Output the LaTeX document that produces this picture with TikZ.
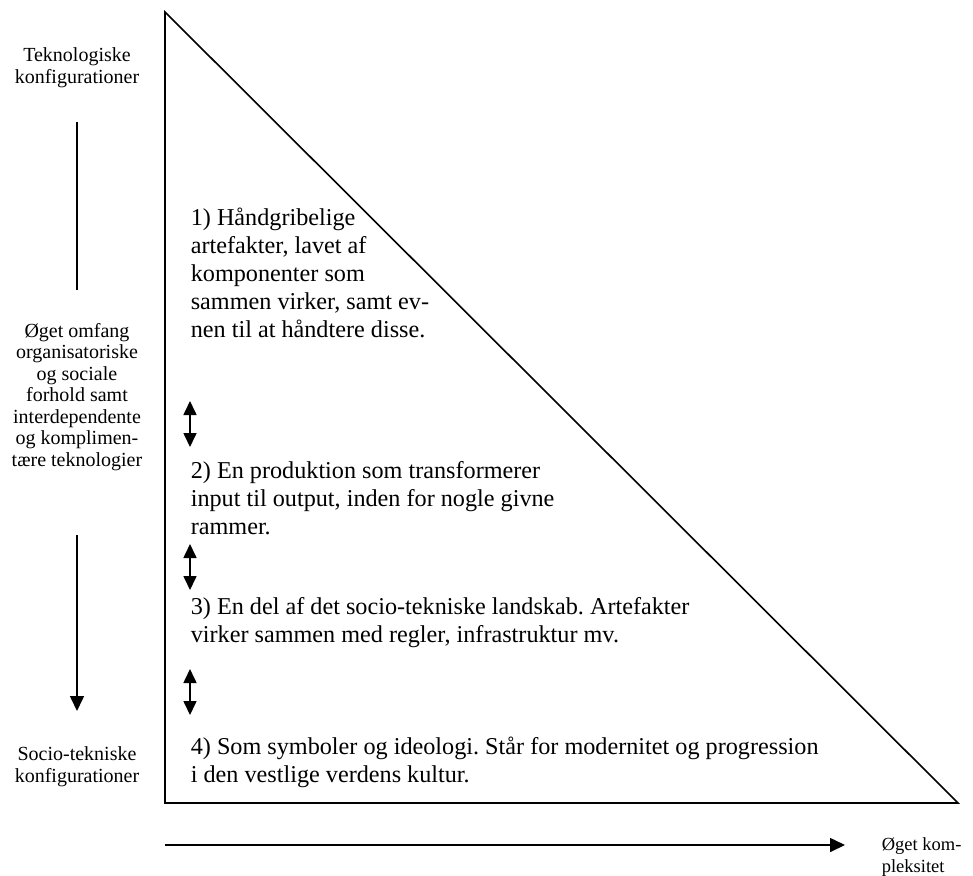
\documentclass[tikz,border=0pt]{standalone}
\usepackage{fontspec}
\setmainfont{Liberation Serif}
\usetikzlibrary{arrows.meta}
\frenchspacing
\begin{document}
\begin{tikzpicture}[x=1pt,y=-1pt,
  line width=1.6pt,
  tip/.style={-{Triangle[length=15pt,width=14pt]}},
  dbl/.style={{Triangle[length=14pt,width=13pt]}-{Triangle[length=14pt,width=13pt]}},
  maintext/.style={anchor=base west,inner sep=0pt,align=left,
    font=\fontsize{24.2}{28}\selectfont},
  sidetext/.style={anchor=base,inner sep=0pt,align=center,
    font=\fontsize{20}{21.5}\selectfont}]
\useasboundingbox (0,0) rectangle (973,875);

% the triangle
\coordinate (tl) at (165,12);
\coordinate (bl) at (165,803);
\coordinate (br) at (958,803);
\draw[line join=miter] (tl) -- (bl) -- (br) -- cycle;

% the four levels (positioned by the baseline of their last line)
\node[maintext] (l1) at (190,337) {1) Håndgribelige\\artefakter, lavet af\\komponenter som\\sammen virker, samt ev-\\nen til at håndtere disse.};
\node[maintext] (l2) at (190,534) {2) En produktion som transformerer\\input til output, inden for nogle givne\\rammer.};
\node[maintext] (l3) at (190,642) {3) En del af det socio-tekniske landskab. Artefakter\\virker sammen med regler, infrastruktur mv.};
\node[maintext] (l4) at (190,782) {4) Som symboler og ideologi. Står for modernitet og progression\\i den vestlige verdens kultur.};

% double arrows between the levels
\coordinate (d1a) at (190,401); \coordinate (d1b) at (190,447);
\coordinate (d2a) at (190,544); \coordinate (d2b) at (190,590);
\coordinate (d3a) at (190,669); \coordinate (d3b) at (190,715);
\draw[dbl] (d1a) -- (d1b);
\draw[dbl] (d2a) -- (d2b);
\draw[dbl] (d3a) -- (d3b);

% left column
\node[sidetext] (top) at (77,83) {Teknologiske\\konfigurationer};
\node[sidetext] (mid) at (77,466) {Øget omfang\\organisatoriske\\og sociale\\forhold samt\\interdependente\\og komplimen-\\tære teknologier};
\node[sidetext] (bot) at (77,782) {Socio-tekniske\\konfigurationer};
\coordinate (a1) at (77,122);
\coordinate (a2) at (77,290);
\coordinate (a3) at (77,535);
\coordinate (a4) at (77,711);
\draw (a1) -- (a2);
\draw[tip] (a3) -- (a4);

% bottom axis
\coordinate (h1) at (165,845);
\coordinate (h2) at (845,845);
\draw[tip] (h1) -- (h2);
\node[anchor=base west,inner sep=0pt,align=left,font=\fontsize{18.5}{22}\selectfont] (cx) at (881,872) {Øget kom-\\pleksitet};
\end{tikzpicture}
\end{document}
